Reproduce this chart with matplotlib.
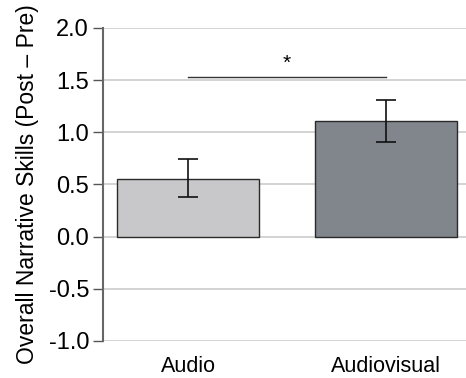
import matplotlib
matplotlib.use("Agg")
import matplotlib.pyplot as plt

conditions = ["Audio", "Audiovisual"]
means = [0.55, 1.11]
err_low = [0.17, 0.20]
err_high = [0.19, 0.20]
colors = ["#c8c8ca", "#80868c"]
yticks = [-1.0, -0.5, 0.0, 0.5, 1.0, 1.5, 2.0]
sig_y = 1.53

plt.rcParams['font.family'] = ['Liberation Sans', 'DejaVu Sans']

fig = plt.figure(figsize=(4.66, 3.78), dpi=100)
ax = fig.add_axes([0.221, 0.098, 0.779, 0.828])

x = range(len(conditions))
ax.bar(x, means, width=0.717, color=colors, edgecolor="#2a2a2a", linewidth=1.0, zorder=3)
ax.errorbar(x, means, yerr=[err_low, err_high], fmt="none", ecolor="#111111",
            elinewidth=1.2, capsize=7, capthick=1.2, zorder=4)

# significance bar
ax.plot([0, 1], [sig_y, sig_y], color="#333333", linewidth=1.0, zorder=4)
ax.text(0.5, sig_y + 0.04, "*", ha="center", va="bottom", fontsize=15)

ax.set_ylim(-1.0, 2.0)
ax.set_xlim(-0.43, 1.405)
ax.set_yticks(yticks)
ax.set_yticklabels(["%.1f" % t for t in yticks], fontsize=17)
ax.set_xticks(list(x))
ax.set_xticklabels(conditions, fontsize=15.5)
ax.tick_params(axis="x", length=0, pad=11)
ax.tick_params(axis="y", length=7, width=1, color="#555555", pad=3)
ax.grid(axis="y", color="#cccccc", linewidth=1.2, zorder=0)
for s in ["top", "right", "bottom"]:
    ax.spines[s].set_visible(False)
ax.spines["left"].set_color("#666666")
ax.spines["left"].set_linewidth(1.5)
ax.set_ylabel("Overall Narrative Skills (Post \u2013 Pre)", fontsize=16.5, labelpad=7)

fig.savefig("out.png", dpi=100)
